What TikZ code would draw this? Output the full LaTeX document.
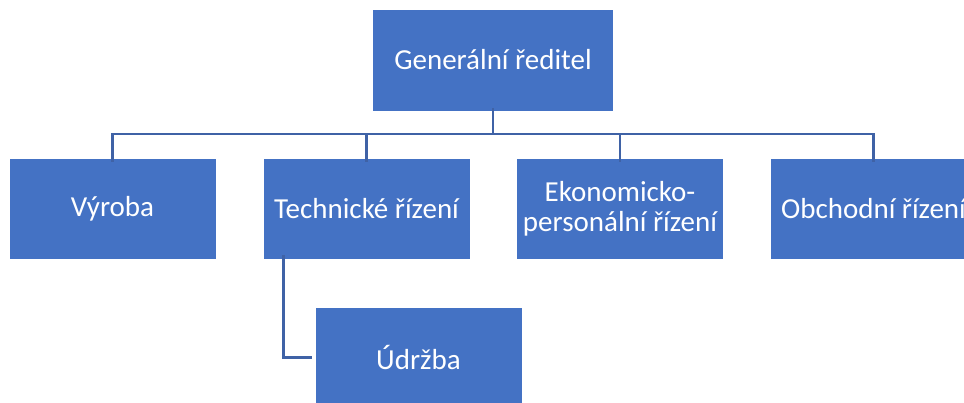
\documentclass[tikz,border=0pt]{standalone}
\usepackage{fontspec}
\setmainfont{Carlito}
\definecolor{boxblue}{HTML}{4472C4}
\definecolor{lineblue}{HTML}{3F62A6}
\begin{document}
\begin{tikzpicture}[x=1pt,y=-1pt,
  orgbox/.style={fill=boxblue, draw=white, line width=0.8pt, text=white, inner sep=0pt,
    font=\fontsize{29}{30}\selectfont, align=center},
  conn/.style={draw=lineblue, line width=2.6pt}]
\useasboundingbox (0,0) rectangle (964,403);
\clip (0,0) rectangle (964,403);
\node[orgbox, minimum width=241pt, minimum height=102pt] (gr) at (493,60) {Generální ředitel};
\node[orgbox, minimum width=207pt, minimum height=101pt] (vy) at (112.5,208.5) {Výroba};
\node[orgbox, minimum width=207pt, minimum height=101pt] (te) at (366.5,208.5) {Technické řízení};
\node[orgbox, minimum width=207pt, minimum height=101pt] (ek) at (620,208.5) {Ekonomicko-\\personální řízení};
\node[orgbox, minimum width=207pt, minimum height=101pt] (ob) at (873.5,208.5) {Obchodní řízení};
\node[orgbox, minimum width=207pt, minimum height=101pt] (ud) at (418.5,357.5) {Údržba};
\coordinate (hub) at (493,134);
\draw[conn] ([yshift=3pt]gr.south) -- (hub);
\draw[conn] ([yshift=-4pt]vy.north) |- (hub) -| ([yshift=-4pt]ob.north);
\draw[conn] ([yshift=-4pt]te.north) -- (te.north |- hub);
\draw[conn] ([yshift=-4pt]ek.north) -- (ek.north |- hub);
\coordinate (tl) at ([xshift=-83pt,yshift=4pt]te.south);
\draw[conn] (tl) |- ([xshift=-3pt]ud.west);
\end{tikzpicture}
\end{document}
